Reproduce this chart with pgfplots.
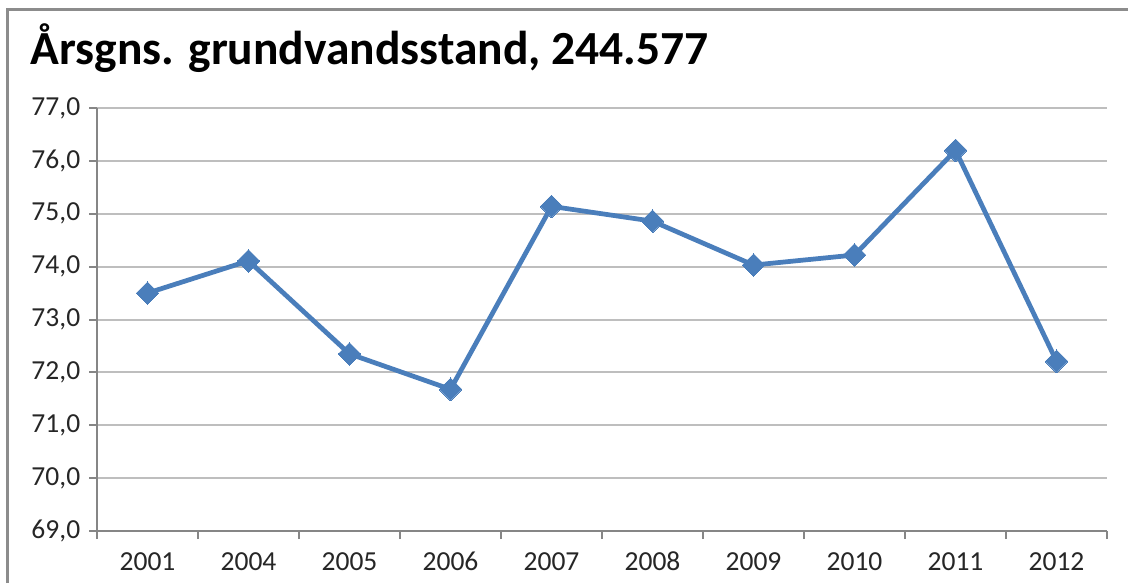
\documentclass[border=0pt]{standalone}
\usepackage{fontspec}
\setmainfont{Carlito}
\usepackage{pgfplots}
\pgfplotsset{compat=1.18}
\definecolor{serblue}{RGB}{74,126,187}
\definecolor{gridgray}{RGB}{190,190,190}
\definecolor{axisgray}{RGB}{134,134,134}
\definecolor{framegray}{RGB}{140,140,140}
\definecolor{txt}{RGB}{38,38,38}
\begin{document}
\begin{tikzpicture}
\useasboundingbox (0,0) rectangle (451.2pt,233.2pt);
\draw[framegray, line width=1.2pt] (2.8pt,0pt) -- (2.8pt,229.2pt) -- (451.2pt,229.2pt);
\node[anchor=base west, inner sep=0pt, font=\fontsize{19pt}{22pt}\selectfont\bfseries] at (12pt,207.2pt) {Årsgns. grundvandsstand, 244.577};
\begin{axis}[
  at={(38.8pt,20.8pt)}, anchor=south west,
  scale only axis, width=404pt, height=169.2pt,
  xmin=-0.5, xmax=9.5, ymin=69, ymax=77,
  axis x line*=bottom, axis y line*=left,
  axis line style={draw=axisgray, line width=0.8pt, -},
  tick align=outside,
  major tick length=3.2pt,
  tick style={draw=axisgray, line width=0.8pt},
  xtick={-0.5,0.5,...,9.5}, xticklabels={},
  extra x ticks={0,1,2,3,4,5,6,7,8,9},
  extra x tick labels={2001,2004,2005,2006,2007,2008,2009,2010,2011,2012},
  extra x tick style={major tick length=0pt, xticklabel style={yshift=-5pt, text height=7.2pt, text depth=0pt}},
  ytick={69,70,...,77},
  ymajorgrids,
  grid style={draw=gridgray, line width=0.8pt},
  yticklabel style={/pgf/number format/.cd, fixed, fixed zerofill, precision=1, use comma},
  /pgf/number format/assume math mode=true,
  ticklabel style={font=\fontsize{11pt}{13pt}\selectfont, text=txt},
  clip=false,
]
\addplot[serblue, line width=1.9pt, mark=square*, mark size=3.2pt, mark options={rotate=45, fill=serblue, draw=serblue, line width=0pt}]
 coordinates {(0,73.50) (1,74.11) (2,72.35) (3,71.68) (4,75.14) (5,74.86) (6,74.03) (7,74.22) (8,76.20) (9,72.21)};
\end{axis}
\end{tikzpicture}
\end{document}
